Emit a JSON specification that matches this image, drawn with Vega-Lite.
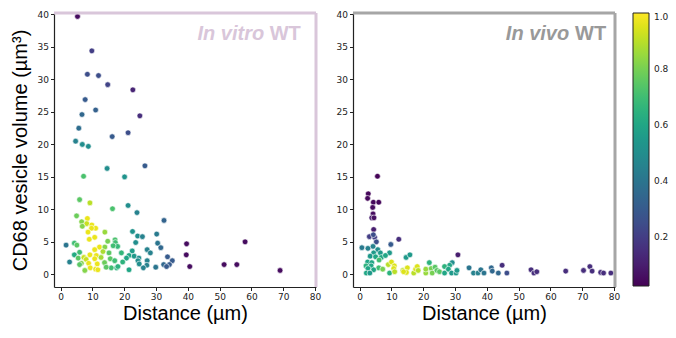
{
  "$schema": "https://vega.github.io/schema/vega-lite/v6.json",
  "padding": {"left": 10, "top": 10, "right": 5, "bottom": 5},
  "background": "white",
  "config": {
    "view": {"stroke": null},
    "axis": {"grid": false, "labelOverlap": false, "labelFlush": false, "domainColor": "#222", "domainWidth": 1.2, "tickColor": "#222", "tickSize": 3.5, "labelPadding": 2, "labelFont": "DejaVu Sans", "labelFontSize": 9, "labelColor": "#222", "titleFont": "Liberation Sans", "titleFontSize": 20, "titleFontWeight": "normal", "titleColor": "#000"},
    "axisX": {"values": [0,10,20,30,40,50,60,70,80], "titlePadding": 2},
    "axisY": {"values": [0,5,10,15,20,25,30,35,40], "titlePadding": 7},
    "concat": {"spacing": 15}
  },
  "datasets": {
    "one": [{}],
    "vitro": [
      {"d":5.3,"v":39.7,"c":0.05},{"d":9.8,"v":34.4,"c":0.2},{"d":8.4,"v":30.8,"c":0.25},{"d":11.9,"v":30.6,"c":0.25},{"d":14.8,"v":29.2,"c":0.22},{"d":22.7,"v":28.4,"c":0.12},{"d":7.7,"v":26.9,"c":0.3},{"d":11.0,"v":25.3,"c":0.32},{"d":6.7,"v":24.6,"c":0.35},{"d":24.9,"v":24.4,"c":0.15},{"d":5.7,"v":22.5,"c":0.37},{"d":16.2,"v":21.2,"c":0.3},{"d":21.2,"v":21.8,"c":0.25},{"d":4.7,"v":20.5,"c":0.45},{"d":6.8,"v":20.0,"c":0.5},{"d":8.7,"v":19.7,"c":0.5},{"d":14.6,"v":16.3,"c":0.5},{"d":26.5,"v":16.7,"c":0.3},{"d":7.2,"v":15.1,"c":0.72},{"d":20.1,"v":15.0,"c":0.52},{"d":5.95,"v":11.5,"c":0.75},{"d":9.2,"v":11.0,"c":0.9},{"d":16.3,"v":10.1,"c":0.72},{"d":21.2,"v":10.6,"c":0.5},{"d":24.0,"v":9.5,"c":0.45},{"d":32.5,"v":8.3,"c":0.33},{"d":5.0,"v":9.0,"c":0.78},{"d":8.4,"v":8.6,"c":0.97},{"d":6.6,"v":8.1,"c":0.82},{"d":8.2,"v":7.8,"c":0.92},{"d":6.8,"v":7.4,"c":0.82},{"d":9.8,"v":7.6,"c":0.97},{"d":11.0,"v":7.1,"c":0.97},{"d":9.7,"v":7.1,"c":0.97},{"d":8.6,"v":6.5,"c":0.97},{"d":13.9,"v":6.5,"c":0.85},{"d":22.6,"v":6.6,"c":0.52},{"d":24.2,"v":5.9,"c":0.5},{"d":25.7,"v":5.8,"c":0.45},{"d":30.2,"v":6.2,"c":0.42},{"d":9.0,"v":5.4,"c":0.97},{"d":10.7,"v":5.7,"c":0.97},{"d":1.7,"v":4.5,"c":0.4},{"d":4.3,"v":4.8,"c":0.7},{"d":5.1,"v":4.5,"c":0.75},{"d":14.8,"v":5.1,"c":0.8},{"d":17.1,"v":5.3,"c":0.72},{"d":17.2,"v":4.9,"c":0.7},{"d":23.6,"v":4.9,"c":0.5},{"d":30.5,"v":4.8,"c":0.4},{"d":31.5,"v":4.1,"c":0.35},{"d":39.6,"v":4.7,"c":0.05},{"d":58.0,"v":5.0,"c":0.05},{"d":17.9,"v":4.3,"c":0.68},{"d":16.5,"v":4.4,"c":0.7},{"d":12.2,"v":4.2,"c":0.97},{"d":13.9,"v":4.2,"c":0.82},{"d":10.7,"v":3.8,"c":0.97},{"d":13.3,"v":3.5,"c":0.88},{"d":15.2,"v":3.3,"c":0.75},{"d":5.95,"v":3.4,"c":0.7},{"d":4.3,"v":3.0,"c":0.62},{"d":9.2,"v":3.0,"c":0.97},{"d":11.2,"v":2.9,"c":0.97},{"d":19.1,"v":3.3,"c":0.67},{"d":22.5,"v":3.6,"c":0.57},{"d":27.2,"v":3.8,"c":0.45},{"d":28.2,"v":3.3,"c":0.45},{"d":21.5,"v":2.9,"c":0.6},{"d":23.1,"v":2.8,"c":0.55},{"d":24.6,"v":2.5,"c":0.5},{"d":20.7,"v":2.5,"c":0.6},{"d":33.6,"v":2.7,"c":0.3},{"d":39.5,"v":3.0,"c":0.05},{"d":2.8,"v":1.9,"c":0.45},{"d":5.5,"v":2.5,"c":0.75},{"d":7.3,"v":2.6,"c":0.92},{"d":8.0,"v":2.3,"c":0.92},{"d":10.7,"v":2.4,"c":0.97},{"d":12.7,"v":2.6,"c":0.87},{"d":15.6,"v":2.4,"c":0.75},{"d":17.0,"v":2.1,"c":0.7},{"d":19.5,"v":1.9,"c":0.65},{"d":24.3,"v":2.1,"c":0.5},{"d":27.2,"v":2.1,"c":0.45},{"d":35.1,"v":2.1,"c":0.3},{"d":6.5,"v":1.7,"c":0.82},{"d":8.8,"v":1.7,"c":0.97},{"d":11.5,"v":1.6,"c":0.97},{"d":13.8,"v":1.8,"c":0.78},{"d":5.95,"v":1.5,"c":0.75},{"d":24.7,"v":1.6,"c":0.5},{"d":27.1,"v":1.4,"c":0.45},{"d":32.4,"v":1.5,"c":0.35},{"d":34.2,"v":1.5,"c":0.3},{"d":40.6,"v":1.2,"c":0.05},{"d":51.4,"v":1.5,"c":0.05},{"d":55.4,"v":1.5,"c":0.05},{"d":69.0,"v":0.6,"c":0.05},{"d":29.9,"v":1.1,"c":0.4},{"d":33.3,"v":1.2,"c":0.3},{"d":26.0,"v":1.0,"c":0.45},{"d":21.5,"v":0.7,"c":0.6},{"d":17.6,"v":1.0,"c":0.65},{"d":15.9,"v":1.0,"c":0.7},{"d":14.3,"v":1.1,"c":0.75},{"d":9.3,"v":1.0,"c":0.97},{"d":11.0,"v":0.8,"c":0.97},{"d":11.7,"v":0.7,"c":0.97},{"d":7.6,"v":0.6,"c":0.82},{"d":18.0,"v":1.2,"c":0.65}
    ],
    "vivo": [
      {"d":5.6,"v":15.1,"c":0.03},{"d":2.7,"v":12.4,"c":0.04},{"d":2.5,"v":11.7,"c":0.04},{"d":4.3,"v":11.1,"c":0.04},{"d":6.0,"v":11.1,"c":0.04},{"d":4.1,"v":10.3,"c":0.05},{"d":4.2,"v":9.3,"c":0.05},{"d":3.8,"v":8.7,"c":0.1},{"d":4.5,"v":8.7,"c":0.06},{"d":4.4,"v":6.9,"c":0.1},{"d":3.05,"v":5.8,"c":0.2},{"d":4.7,"v":5.7,"c":0.2},{"d":4.3,"v":6.1,"c":0.25},{"d":5.25,"v":5.0,"c":0.25},{"d":12.3,"v":5.4,"c":0.15},{"d":9.8,"v":4.6,"c":0.3},{"d":0.7,"v":4.1,"c":0.42},{"d":2.6,"v":4.0,"c":0.45},{"d":4.2,"v":4.3,"c":0.45},{"d":5.7,"v":3.8,"c":0.5},{"d":4.4,"v":3.3,"c":0.55},{"d":6.5,"v":3.3,"c":0.55},{"d":9.4,"v":3.3,"c":0.55},{"d":3.3,"v":2.8,"c":0.55},{"d":5.0,"v":2.7,"c":0.6},{"d":6.8,"v":2.6,"c":0.6},{"d":8.1,"v":2.9,"c":0.6},{"d":14.6,"v":2.6,"c":0.55},{"d":15.8,"v":3.0,"c":0.55},{"d":30.9,"v":3.0,"c":0.1},{"d":6.1,"v":2.2,"c":0.7},{"d":2.5,"v":1.9,"c":0.6},{"d":3.8,"v":1.8,"c":0.6},{"d":2.0,"v":1.3,"c":0.65},{"d":3.6,"v":1.3,"c":0.6},{"d":21.9,"v":1.8,"c":0.65},{"d":29.1,"v":1.8,"c":0.5},{"d":28.3,"v":1.4,"c":0.6},{"d":9.0,"v":1.5,"c":0.9},{"d":10.0,"v":1.9,"c":0.95},{"d":10.9,"v":1.3,"c":0.95},{"d":10.7,"v":0.9,"c":0.95},{"d":6.0,"v":1.0,"c":0.7},{"d":7.25,"v":0.8,"c":0.8},{"d":2.6,"v":0.9,"c":0.6},{"d":4.4,"v":0.7,"c":0.6},{"d":2.1,"v":0.2,"c":0.6},{"d":3.2,"v":0.2,"c":0.55},{"d":9.4,"v":0.2,"c":0.65},{"d":11.0,"v":0.4,"c":0.9},{"d":13.6,"v":0.6,"c":0.9},{"d":15.0,"v":1.0,"c":0.95},{"d":14.7,"v":0.3,"c":0.95},{"d":13.8,"v":0.4,"c":0.95},{"d":17.0,"v":0.2,"c":0.9},{"d":17.6,"v":0.8,"c":0.95},{"d":18.1,"v":1.2,"c":0.95},{"d":18.4,"v":0.6,"c":0.9},{"d":20.8,"v":0.2,"c":0.85},{"d":20.8,"v":0.8,"c":0.85},{"d":22.5,"v":0.9,"c":0.8},{"d":22.8,"v":0.2,"c":0.8},{"d":23.7,"v":1.1,"c":0.75},{"d":24.3,"v":0.6,"c":0.75},{"d":25.1,"v":0.4,"c":0.75},{"d":26.7,"v":1.2,"c":0.65},{"d":26.7,"v":0.2,"c":0.6},{"d":27.9,"v":0.8,"c":0.6},{"d":28.9,"v":0.2,"c":0.55},{"d":30.3,"v":0.2,"c":0.55},{"d":30.6,"v":0.6,"c":0.55},{"d":34.4,"v":1.0,"c":0.4},{"d":35.8,"v":0.2,"c":0.45},{"d":37.2,"v":0.2,"c":0.45},{"d":38.1,"v":0.7,"c":0.4},{"d":39.1,"v":0.2,"c":0.4},{"d":41.4,"v":1.0,"c":0.35},{"d":41.7,"v":0.5,"c":0.35},{"d":43.6,"v":0.2,"c":0.35},{"d":44.8,"v":1.4,"c":0.15},{"d":46.3,"v":0.2,"c":0.25},{"d":53.9,"v":0.7,"c":0.15},{"d":54.8,"v":0.2,"c":0.15},{"d":55.7,"v":0.4,"c":0.15},{"d":64.8,"v":0.5,"c":0.15},{"d":70.4,"v":0.6,"c":0.15},{"d":72.4,"v":1.2,"c":0.15},{"d":73.1,"v":0.5,"c":0.15},{"d":75.8,"v":0.3,"c":0.15},{"d":76.7,"v":0.2,"c":0.15},{"d":79.0,"v":0.2,"c":0.15}
    ]
  },
  "hconcat": [
    {
      "width": 262,
      "height": 274,
      "layer": [
        {
          "data": {"name": "vitro"},
          "mark": {"type": "point", "filled": true, "size": 32, "stroke": "white", "strokeWidth": 0.6, "opacity": 1},
          "encoding": {
            "x": {"field": "d", "type": "quantitative", "scale": {"domain": [-2.1, 80.3], "nice": false, "zero": false}, "axis": {"title": "Distance (µm)"}},
            "y": {"field": "v", "type": "quantitative", "scale": {"domain": [-1.95, 40.23], "nice": false, "zero": false}, "axis": {"title": "CD68 vesicle volume (µm³)"}},
            "color": {"field": "c", "type": "quantitative", "scale": {"scheme": "viridis", "domain": [0.023, 1.0]}, "legend": {"title": null, "values": [0.2,0.4,0.6,0.8,1.0], "format": ".1f", "gradientLength": 273, "gradientThickness": 16, "gradientStrokeColor": "#222", "gradientStrokeWidth": 1, "labelOffset": 5, "offset": 13, "labelFont": "DejaVu Sans", "labelFontSize": 9, "labelColor": "#222"}}
          }
        },
        {"data": {"name": "one"}, "mark": {"type": "rule", "color": "#d9c6da", "strokeWidth": 3}, "encoding": {"y": {"datum": 40.23, "type": "quantitative", "axis": {"title": "CD68 vesicle volume (µm³)"}}}},
        {"data": {"name": "one"}, "mark": {"type": "rule", "color": "#d9c6da", "strokeWidth": 3}, "encoding": {"x": {"datum": 80.3, "type": "quantitative", "axis": {"title": "Distance (µm)"}}}},
        {"data": {"name": "one"}, "mark": {"type": "text", "text": "In vitro", "align": "right", "baseline": "middle", "font": "Liberation Sans", "fontSize": 20, "fontWeight": "bold", "fontStyle": "italic", "color": "#d9c6da"}, "encoding": {"x": {"datum": 64.0, "type": "quantitative", "axis": {"title": "Distance (µm)"}}, "y": {"datum": 37.0, "type": "quantitative", "axis": {"title": "CD68 vesicle volume (µm³)"}}}},
        {"data": {"name": "one"}, "mark": {"type": "text", "text": "WT", "align": "right", "baseline": "middle", "font": "Liberation Sans", "fontSize": 20, "fontWeight": "bold", "color": "#d9c6da"}, "encoding": {"x": {"datum": 75.5, "type": "quantitative", "axis": {"title": "Distance (µm)"}}, "y": {"datum": 37.0, "type": "quantitative", "axis": {"title": "CD68 vesicle volume (µm³)"}}}}
      ]
    },
    {
      "width": 262,
      "height": 274,
      "layer": [
        {
          "data": {"name": "vivo"},
          "mark": {"type": "point", "filled": true, "size": 32, "stroke": "white", "strokeWidth": 0.6, "opacity": 1},
          "encoding": {
            "x": {"field": "d", "type": "quantitative", "scale": {"domain": [-2.1, 80.3], "nice": false, "zero": false}, "axis": {"title": "Distance (µm)"}},
            "y": {"field": "v", "type": "quantitative", "scale": {"domain": [-1.95, 40.23], "nice": false, "zero": false}, "axis": {"title": null}},
            "color": {"field": "c", "type": "quantitative", "scale": {"scheme": "viridis", "domain": [0.023, 1.0]}, "legend": {"title": null, "values": [0.2,0.4,0.6,0.8,1.0], "format": ".1f", "gradientLength": 273, "gradientThickness": 16, "gradientStrokeColor": "#222", "gradientStrokeWidth": 1, "labelOffset": 5, "offset": 13, "labelFont": "DejaVu Sans", "labelFontSize": 9, "labelColor": "#222"}}
          }
        },
        {"data": {"name": "one"}, "mark": {"type": "rule", "color": "#a6a6a6", "strokeWidth": 3}, "encoding": {"y": {"datum": 40.23, "type": "quantitative", "axis": {"title": null}}}},
        {"data": {"name": "one"}, "mark": {"type": "rule", "color": "#a6a6a6", "strokeWidth": 3}, "encoding": {"x": {"datum": 80.3, "type": "quantitative", "axis": {"title": "Distance (µm)"}}}},
        {"data": {"name": "one"}, "mark": {"type": "text", "text": "In vivo", "align": "right", "baseline": "middle", "font": "Liberation Sans", "fontSize": 20, "fontWeight": "bold", "fontStyle": "italic", "color": "#999999"}, "encoding": {"x": {"datum": 65.9, "type": "quantitative", "axis": {"title": "Distance (µm)"}}, "y": {"datum": 37.0, "type": "quantitative", "axis": {"title": null}}}},
        {"data": {"name": "one"}, "mark": {"type": "text", "text": "WT", "align": "right", "baseline": "middle", "font": "Liberation Sans", "fontSize": 20, "fontWeight": "bold", "color": "#999999"}, "encoding": {"x": {"datum": 77.5, "type": "quantitative", "axis": {"title": "Distance (µm)"}}, "y": {"datum": 37.0, "type": "quantitative", "axis": {"title": null}}}}
      ]
    }
  ]
}
